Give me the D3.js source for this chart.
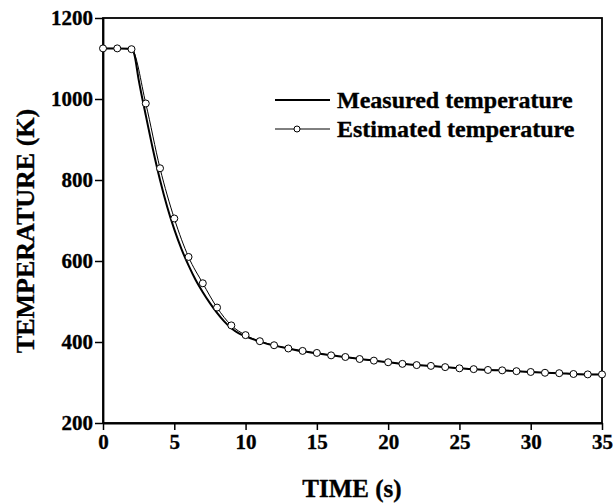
<html>
<head>
<script src="https://d3js.org/d3.v7.min.js"></script>
<style>
  body { margin: 0; background: #fff; }
  text { font-family: "Liberation Serif", "Times New Roman", serif; font-weight: bold; fill: #000; stroke: #000; stroke-width: 0.35px; }
</style>
</head>
<body>
<svg id="chart" width="614" height="504"></svg>
<script>
// estimated temperature, one point per second
var estTime = [0,1,2,3,4,5,6,7,8,9,10,11,12,13,14,15,16,17,18,19,20,21,22,23,24,25,26,27,28,29,30,31,32,33,34,35];
var estTemp = [1125,1125,1123,989,829,705,610,545,485,441,417,402,392,384,378,373,367,363,358,354,350,346,343,341,338,335,333,331,330,328,326,324,323,321,320,320];

// measured temperature
var measTime = [0,1,2,2.2,2.5,3,3.5,4,4.5,5,5.5,6,6.5,7,7.5,8,8.5,9,9.5,10,11,12,13,14,15,16,17,18,19,20,21,22,23,24,25,26,27,28,29,30,31,32,33,34,35];
var measTemp = [1125,1125,1124,1110,1048,960,876,800,734,678,630,589,553,523,496,472,451,434,422,414,401,391,384,377,372,367,363,358,354,350,346,343,341,338,335,333,331,330,328,326,324,323,321,320,320];

var xTicks = [0,5,10,15,20,25,30,35];
var yTicks = [200,400,600,800,1000,1200];
var legendLabels = ["Measured temperature", "Estimated temperature"];

var svg = d3.select("#chart");
var x = d3.scaleLinear().domain([0,35]).range([103,602]);
var y = d3.scaleLinear().domain([200,1200]).range([423,18]);

// frame
svg.append("rect")
    .attr("x", 103).attr("y", 18)
    .attr("width", 602-103).attr("height", 423-18)
    .attr("fill", "none").attr("stroke", "#000").attr("stroke-width", 1.8);

var xAxis = svg.append("g")
    .attr("transform", "translate(0,423)")
    .call(d3.axisBottom(x).tickValues(xTicks).tickFormat(d3.format("d")).tickSize(7).tickPadding(4).tickSizeOuter(0));
var yAxis = svg.append("g")
    .attr("transform", "translate(103,0)")
    .call(d3.axisLeft(y).tickValues(yTicks).tickFormat(d3.format("d")).tickSize(8).tickPadding(2).tickSizeOuter(0));

[xAxis, yAxis].forEach(function(g) {
    g.attr("font-family", "Liberation Serif").attr("font-size", 21).attr("font-weight", "bold");
    g.select(".domain").attr("stroke", "#000").attr("stroke-width", 1.8);
    g.selectAll(".tick line").attr("stroke", "#000").attr("stroke-width", 1.5);
    g.selectAll(".tick text")
        .style("font-family", "Liberation Serif")
        .style("font-weight", "bold")
        .style("font-size", "21px")
        .attr("fill", "#000");
});

// titles
svg.append("text")
    .attr("x", 352).attr("y", 497)
    .attr("text-anchor", "middle")
    .style("font-size", "25px")
    .text("TIME (s)");
svg.append("text")
    .attr("transform", "translate(34,231) rotate(-90)")
    .attr("text-anchor", "middle")
    .style("font-size", "26px")
    .text("TEMPERATURE (K)");

var meas = measTime.map(function(t, i) { return [t, measTemp[i]]; });
var est = estTime.map(function(t, i) { return [t, estTemp[i]]; });

var line = d3.line()
    .x(function(d) { return x(d[0]); })
    .y(function(d) { return y(d[1]); })
    .curve(d3.curveMonotoneX);

svg.append("path")
    .attr("d", line(meas))
    .attr("fill", "none").attr("stroke", "#000").attr("stroke-width", 2);

svg.append("path")
    .attr("d", line(est))
    .attr("fill", "none").attr("stroke", "#000").attr("stroke-width", 1);

svg.append("g").selectAll("circle")
    .data(est)
    .enter()
    .append("circle")
    .attr("cx", function(d) { return x(d[0]); })
    .attr("cy", function(d) { return y(d[1]); })
    .attr("r", 3.5)
    .attr("fill", "#fff").attr("stroke", "#000").attr("stroke-width", 1);

// legend
var lg = svg.append("g");
lg.append("line").attr("x1", 275).attr("x2", 330).attr("y1", 100).attr("y2", 100)
    .attr("stroke", "#000").attr("stroke-width", 1.8);
lg.append("line").attr("x1", 275).attr("x2", 330).attr("y1", 129).attr("y2", 129)
    .attr("stroke", "#000").attr("stroke-width", 1);
lg.append("circle").attr("cx", 297).attr("cy", 129).attr("r", 3)
    .attr("fill", "#fff").attr("stroke", "#000");
lg.selectAll("text")
    .data(legendLabels)
    .enter()
    .append("text")
    .attr("x", 337)
    .attr("y", function(d, i) { return 108 + i * 29; })
    .style("font-size", "24px")
    .text(function(d) { return d; });
</script>
</body>
</html>
